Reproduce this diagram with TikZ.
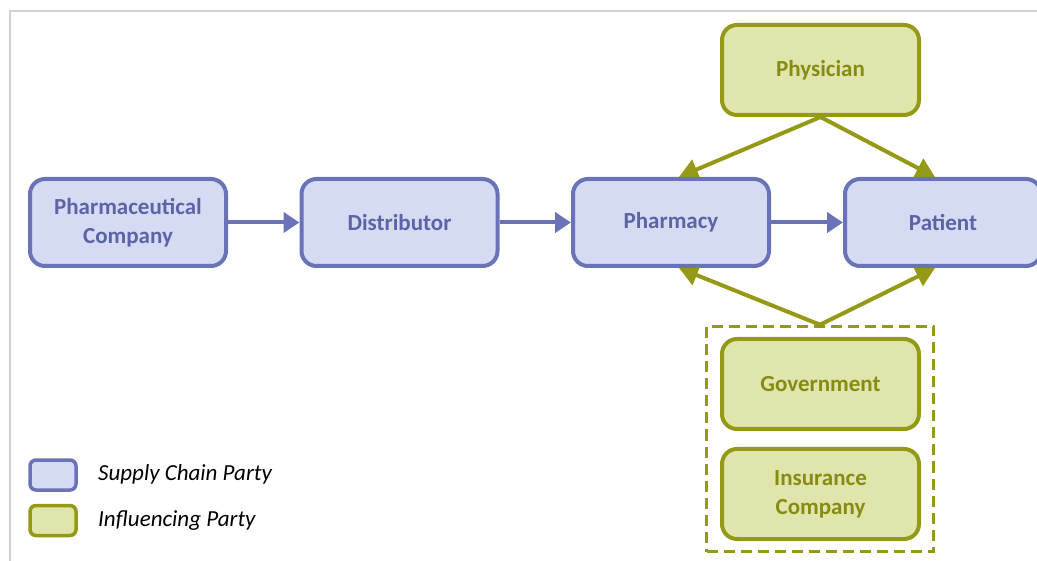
\documentclass[tikz,border=0pt]{standalone}
\usepackage{fontspec}
\setmainfont{Carlito}
\usepackage{xcolor}
\usepackage{tikz}
\usetikzlibrary{arrows, arrows.meta}
\pgfdeclarelayer{bg}
\pgfsetlayers{bg,main}

\definecolor{supplyline}{RGB}{106,114,184}
\definecolor{supplyfill}{RGB}{212,219,243}
\definecolor{supplytext}{RGB}{92,99,166}
\definecolor{influline}{RGB}{148,154,22}
\definecolor{influfill}{RGB}{224,229,172}
\definecolor{influtext}{RGB}{134,140,18}
\definecolor{framegray}{RGB}{210,210,210}

\begin{document}
\begin{tikzpicture}[x=1pt, y=-1pt,
		supplybox/.style={rectangle, rounded corners=15pt, draw=supplyline, fill=supplyfill, line width=4pt, minimum width=196pt, minimum height=87pt, inner sep=0pt, text=supplytext, font=\fontsize{23}{29}\selectfont\bfseries, align=center},
		influbox/.style={rectangle, rounded corners=15pt, draw=influline, fill=influfill, line width=4pt, minimum width=197pt, minimum height=90pt, inner sep=0pt, text=influtext, font=\fontsize{23}{29}\selectfont\bfseries, align=center},
		supplyarrow/.style={-{Triangle[length=16pt, width=20pt]}, draw=supplyline, line width=4pt},
		infuarrow/.style={-{Triangle[length=19pt, width=21pt]}, draw=influline, line width=4pt},
		legendtext/.style={anchor=west, inner sep=0pt, font=\fontsize{23}{28}\selectfont\itshape}]
			\useasboundingbox (0,0) rectangle (1037,561);
			\clip (0,0) rectangle (1037,561);
			\draw[framegray, line width=2pt] (10,561) -- (10,11) -- (1037,11);

			\node[supplybox] (pharmaco) at (128,222.5) {Pharmaceutical\\Company};
			\node[supplybox] (distrib) at (399.5,222.5) {Distributor};
			\node[supplybox] (pharmacy) at (671,222.5) {Pharmacy};
			\node[supplybox] (patient) at (943,222.5) {Patient};

			\node[influbox] (physician) at (820.5,70) {Physician};
			\node[influbox] (govt) at (820.5,384) {Government};
			\node[influbox] (insurer) at (820.5,494) {Insurance\\Company};
			\node[rectangle, draw=influline, line width=3.5pt, dash pattern=on 11pt off 6pt, minimum width=227pt, minimum height=225pt, inner sep=0pt] (regulators) at (820,439) {};

			% legend
			\node[rectangle, rounded corners=6pt, draw=supplyline, fill=supplyfill, line width=3.5pt, minimum width=46pt, minimum height=30pt] (keysupply) at (53,475) {};
			\node[rectangle, rounded corners=6pt, draw=influline, fill=influfill, line width=3.5pt, minimum width=46pt, minimum height=30pt] (keyinflu) at (53,520.5) {};
			\node[legendtext] (keysupplytext) at (98,474) {Supply Chain Party};
			\node[legendtext] (keyinflutext) at (98,521) {Influencing Party};

			\begin{pgfonlayer}{bg}
				\draw[supplyarrow] (pharmaco) -- (distrib);
				\draw[supplyarrow] (distrib) -- (pharmacy);
				\draw[supplyarrow] (pharmacy) -- (patient);
				\draw[infuarrow] (physician.south) -- ([xshift=8pt]pharmacy.north);
				\draw[infuarrow] (physician.south) -- ([xshift=-8pt]patient.north);
				\draw[infuarrow] (regulators.north) -- ([xshift=8pt]pharmacy.south);
				\draw[infuarrow] (regulators.north) -- ([xshift=-8pt]patient.south);
			\end{pgfonlayer}

		\end{tikzpicture}
\end{document}
